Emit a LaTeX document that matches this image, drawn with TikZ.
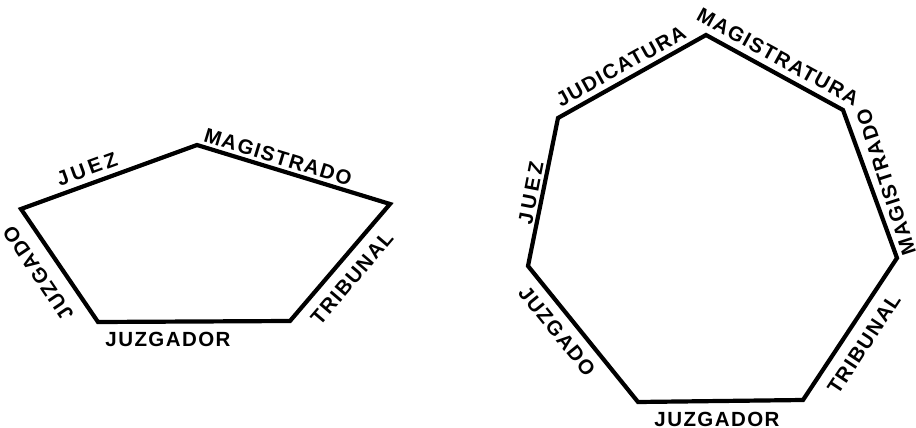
\documentclass[tikz,border=0pt]{standalone}
\usepackage{fontspec}
\setmainfont{Liberation Sans}
\newfontfamily\labelfont[LetterSpace=7]{Liberation Sans}
\usetikzlibrary{positioning, calc}

\begin{document}
\begin{tikzpicture}[
    x=1pt, y=-1pt,
    edge/.style={line width=4.2pt, line join=miter, black},
    term/.style={font=\labelfont\bfseries\fontsize{20.5}{22}\selectfont, inner sep=0pt, anchor=center}
]
\useasboundingbox (0,0) rectangle (916,428);

% pentagon
\coordinate (a1) at (21,209);
\coordinate (a2) at (197,145);
\coordinate (a3) at (390,204);
\coordinate (a4) at (290,321);
\coordinate (a5) at (98,322);
\draw [edge] (a1) -- (a2) -- (a3) -- (a4) -- (a5) -- cycle;

\node (pjuez) [term, rotate=20] at (87,169) {J\,U\,E\,Z};
\node (pmagistrado) [term, rotate=-17] at (278,157) {MAGISTRADO};
\node (ptribunal) [term, rotate=49.5] at (352,278) {TRIBUNAL};
\node (pjuzgador) [term] at (168,339) {JUZGADOR};
\node (pjuzgado) [term, rotate=124] at (38,273) {JUZGADO};

% heptagon
\coordinate (b1) at (706,35);
\coordinate (b2) at (843,110);
\coordinate (b3) at (897,258);
\coordinate (b4) at (803,400);
\coordinate (b5) at (638,402);
\coordinate (b6) at (528,266);
\coordinate (b7) at (558,118);
\draw [edge] (b1) -- (b2) -- (b3) -- (b4) -- (b5) -- (b6) -- (b7) -- cycle;

\node (hjudicatura) [term, rotate=29] at (621,66) {JUDICATURA};
\node (hmagistratura) [term, rotate=-28.7] at (778,57) {MAGISTRATURA};
\node (hmagistrado) [term, rotate=108] at (886,182) {MAGISTRADO};
\node (htribunal) [term, rotate=56.5] at (864,344) {TRIBUNAL};
\node (hjuzgador) [term] at (717,419) {JUZGADOR};
\node (hjuzgado) [term, rotate=-51] at (557,331) {JUZGADO};
\node (hjuez) [term, rotate=79] at (531,193) {J\,U\,E\,Z};
\end{tikzpicture}
\end{document}
